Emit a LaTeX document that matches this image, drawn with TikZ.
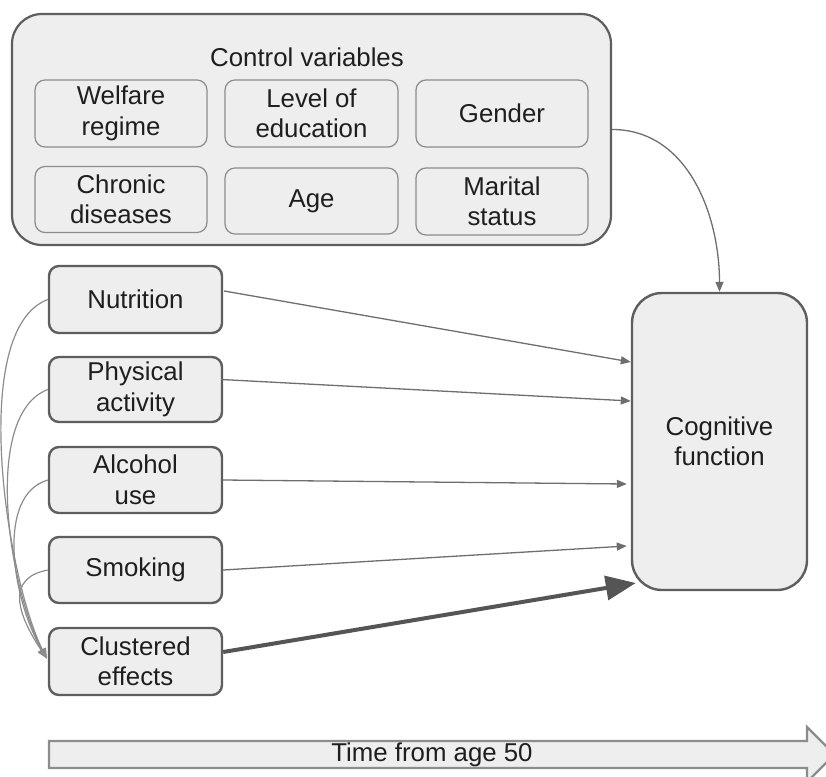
\documentclass[tikz,border=0pt]{standalone}
\usepackage{fontspec}
\setmainfont{Liberation Sans}
\usetikzlibrary{arrows.meta,calc}
\definecolor{boxfill}{HTML}{EEEEEE}
\definecolor{darkline}{HTML}{5E5E5E}
\definecolor{lightline}{HTML}{8C8C8C}
\definecolor{arrowgray}{HTML}{6E6E6E}
\definecolor{thickgray}{HTML}{555555}
\definecolor{txt}{HTML}{1E1E1E}
\tikzset{
  lbl/.style={font=\fontsize{25.8}{30.5}\selectfont, text=txt, align=center, inner sep=0pt},
  outerbox/.style={draw=darkline, line width=2.2pt, fill=boxfill, rounded corners=30pt, rectangle, inner sep=0pt},
  innerbox/.style={draw=lightline, line width=1.2pt, fill=boxfill, rounded corners=10pt, rectangle, lbl},
  factorbox/.style={draw=darkline, line width=2.4pt, fill=boxfill, rounded corners=10pt, rectangle, lbl, minimum width=173pt},
  thinarrow/.style={draw=arrowgray, line width=1.3pt, -{Triangle[length=10pt,width=8pt]}, arrowgray},
  thickarrow/.style={draw=thickgray, line width=4pt, -{Triangle[length=30pt,width=24pt]}, thickgray},
  linkcurve/.style={draw=lightline, line width=1.2pt, -{Triangle[length=10pt,width=8pt]}, fill=none},
}
\begin{document}
\begin{tikzpicture}[x=1pt,y=-1pt]
\useasboundingbox (0,0) rectangle (826,776);
% control variables
\node[outerbox, minimum width=599pt, minimum height=231pt] (ctrl) at (311.5,129.5) {};
\node[lbl] (ctrltitle) at (307,57) {Control variables};
\node[innerbox, minimum width=172pt, minimum height=67pt] (welfare) at (121,113.5) {Welfare\\regime};
\node[innerbox, minimum width=173pt, minimum height=67pt] (edu) at (311.5,113.5) {Level of\\education};
\node[innerbox, minimum width=172pt, minimum height=67pt] (gender) at (502,113.5) {Gender};
\node[innerbox, minimum width=172pt, minimum height=66pt] (chronic) at (121,199.5) {Chronic\\diseases};
\node[innerbox, minimum width=173pt, minimum height=66pt] (age) at (311.5,201) {Age};
\node[innerbox, minimum width=172pt, minimum height=67pt] (marital) at (502,201.5) {Marital\\status};
% factors
\node[factorbox, minimum height=67pt] (nut) at (135.5,299.5) {Nutrition};
\node[factorbox, minimum height=65pt] (phys) at (135.5,389.5) {Physical\\activity};
\node[factorbox, minimum height=66pt] (alc) at (135.5,480) {Alcohol\\use};
\node[factorbox, minimum height=66pt] (smk) at (135.5,570) {Smoking};
\node[factorbox, minimum height=67pt] (clus) at (135.5,661.5) {Clustered\\effects};
% outcome
\node[outerbox, lbl, draw=darkline, line width=2.4pt, minimum width=175pt, minimum height=297pt] (cog) at (719.5,441.5) {Cognitive\\function};
% connectors
\draw[thinarrow] (ctrl.east) to[out=0,in=90] (cog.north);
\coordinate (tnut) at ($(cog.west)+(0,-79.5)$);
\coordinate (tphys) at ($(cog.west)+(0,-40.5)$);
\coordinate (talc) at ($(cog.west)+(-4,42.5)$);
\coordinate (tsmk) at ($(cog.west)+(-4,104.5)$);
\coordinate (tclus) at ($(cog.west)+(5,141.5)$);
\draw[thinarrow] ($(nut.east)+(1,-8.5)$) -- (tnut);
\draw[thinarrow] ($(phys.east)+(-2,-10)$) -- (tphys);
\draw[thinarrow] (alc.east) -- (talc);
\draw[thinarrow] (smk.east) -- (tsmk);
\draw[thickarrow] ($(clus.east)+(0,-9.5)$) -- (tclus);
% links to clustered effects
\coordinate (cin) at ($(clus.west)+(-1,-3)$);
\draw[linkcurve] (nut.west) .. controls +(-80,30) and +(-40,-80) .. (cin);
\draw[linkcurve] (phys.west) .. controls +(-66,25) and +(-38,-70) .. (cin);
\draw[linkcurve] (alc.west) .. controls +(-52,15) and +(-35,-60) .. (cin);
\draw[linkcurve] (smk.west) .. controls +(-42,8) and +(-30,-45) .. (cin);
% time arrow
\draw[draw=lightline, line width=2.4pt, fill=boxfill, line join=miter]
  (49,741) -- (807,741) -- (807,727) -- (834.5,754.5) -- (807,782) -- (807,768) -- (49,768) -- cycle;
\node[lbl] (timelabel) at (432,755) {Time from age 50};
\end{tikzpicture}
\end{document}
